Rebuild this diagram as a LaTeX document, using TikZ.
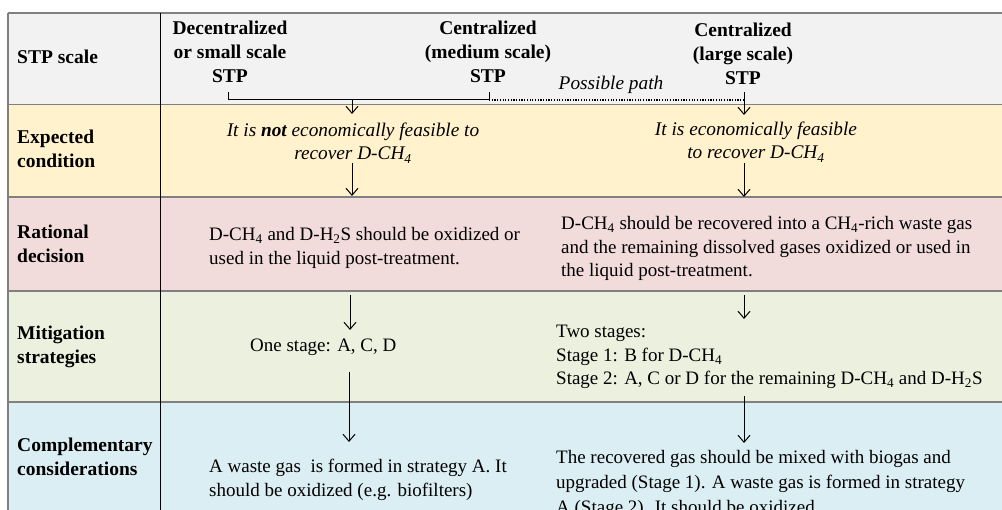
\documentclass[tikz,border=0pt]{standalone}
\usepackage{fontspec}
\setmainfont{Liberation Serif}
\usetikzlibrary{arrows.meta}
\definecolor{hdrc}{HTML}{F2F2F2}
\definecolor{yelc}{HTML}{FFF2CC}
\definecolor{pnkc}{HTML}{F2DCDB}
\definecolor{grnc}{HTML}{EBF1DE}
\definecolor{bluc}{HTML}{DBEEF3}
\definecolor{rulec}{HTML}{808080}
\newcommand{\mlL}[1]{\begin{tabular}[t]{@{}l@{}}#1\end{tabular}}
\newcommand{\mlC}[1]{\begin{tabular}[t]{@{}c@{}}#1\end{tabular}}
\begin{document}
\begin{tikzpicture}[x=1pt,y=-1pt,
  lbl/.style={anchor=base west, inner sep=0pt, font=\fontsize{19.5}{24}\selectfont\bfseries},
  hd/.style={anchor=base, inner sep=0pt, font=\fontsize{19.5}{24}\selectfont\bfseries},
  itc/.style={anchor=base, inner sep=0pt, font=\fontsize{19.3}{23}\selectfont\itshape},
  body/.style={anchor=base west, inner sep=0pt, font=\fontsize{19}{23.5}\selectfont},
  rowrule/.style={draw=rulec, line width=1.1pt},
  conn/.style={line width=1pt, black},
  arr/.style={conn, -{Straight Barb[length=7pt,width=12pt,line width=1pt]}},
  dots/.style={line width=1.2pt, black, dash pattern=on 1.2pt off 1.5pt}
]
\useasboundingbox (0,0) rectangle (1002,510);
\clip (0,0) rectangle (1002,510);
% row backgrounds
\fill[hdrc] (8,13) rectangle (1002,104.5);
\fill[yelc] (8,104.5) rectangle (1002,197);
\fill[pnkc] (8,197) rectangle (1002,291);
\fill[grnc] (8,291) rectangle (1002,402);
\fill[bluc] (8,402) rectangle (1002,512);
% rules
\foreach \yy in {13,104.5,197,291,402} \draw[rowrule] (8,\yy) -- (1003,\yy);
\draw[rowrule] (8,13) -- (8,512);
\draw[line width=1pt, black] (160,13) -- (160,512);

% row labels
\node[lbl] (lscale) at (17,64) {STP scale};
\node[lbl] (lexp) at (17,144) {\mlL{Expected\\condition}};
\node[lbl] (lrat) at (17,239) {\mlL{Rational\\decision}};
\node[lbl] (lmit) at (17,340) {\mlL{Mitigation\\strategies}};
\node[lbl] (lcom) at (17,452) {\mlL{Complementary\\considerations}};

% header columns
\node[hd] (small) at (230,35) {\mlC{Decentralized\\or small scale\\STP}};
\node[hd] (medium) at (488,35) {\mlC{Centralized\\(medium scale)\\STP}};
\node[hd] (large) at (743,36.5) {\mlC{Centralized\\(large scale)\\STP}};
\node[itc] (pp) at (611,90) {Possible path};

% bracket and header arrows
\coordinate (bL) at (228,92);
\coordinate (bR) at (489,92);
\coordinate (bM) at (352,100);
\coordinate (bT) at (352,114);
\coordinate (gT) at (744,92);
\coordinate (gB) at (744,115);
\draw[conn] (bL) -- (bL |- bM) -- (bR |- bM) -- (bR);
\draw[dots] (bR |- bM) -- (gT |- bM);
\draw[arr] (bM) -- (bT);
\draw[arr] (gT) -- (gB);

% expected condition
\node[itc] (e1) at (353,137) {\mlC{It is \textbf{not} economically feasible to\\recover D-CH\textsubscript{4}}};
\node[itc] (e2) at (756,136) {\mlC{It is economically feasible\\to recover D-CH\textsubscript{4}}};
\coordinate (a1s) at (352,163);
\coordinate (a1e) at (352,196);
\coordinate (a2s) at (744,163);
\coordinate (a2e) at (744,197);
\draw[arr] (a1s) -- (a1e);
\draw[arr] (a2s) -- (a2e);

% rational decision
\node[body] (r1) at (209,241) {\mlL{D-CH\textsubscript{4} and D-H\textsubscript{2}S should be oxidized or\\used in the liquid post-treatment.}};
\node[body] (r2) at (561,230) {\mlL{D-CH\textsubscript{4} should be recovered into a CH\textsubscript{4}-rich waste gas\\and the remaining dissolved gases oxidized or used in\\the liquid post-treatment.}};

% mitigation strategies
\coordinate (m1s) at (350,295);
\coordinate (m1e) at (350,330);
\coordinate (m2s) at (744,295);
\coordinate (m2e) at (744,319);
\draw[arr] (m1s) -- (m1e);
\draw[arr] (m2s) -- (m2e);
\node[body] (s1) at (250,352) {One stage: A, C, D};
\node[body] (s2) at (556,338) {\mlL{Two stages:\\Stage 1: B for D-CH\textsubscript{4}\\Stage 2: A, C or D for the remaining D-CH\textsubscript{4} and D-H\textsubscript{2}S}};

% complementary considerations
\coordinate (c1s) at (349,372);
\coordinate (c1e) at (349,442);
\coordinate (c2s) at (744,396);
\coordinate (c2e) at (744,443);
\draw[arr] (c1s) -- (c1e);
\draw[arr] (c2s) -- (c2e);
\node[body] (k1) at (209,473) {\mlL{A waste gas\ \ is formed in strategy A. It\\should be oxidized (e.g. biofilters)}};
\node[body, font=\fontsize{19}{25}\selectfont] (k2) at (556,464) {\mlL{The recovered gas should be mixed with biogas and\\upgraded (Stage 1). A waste gas is formed in strategy\\A (Stage 2). It should be oxidized.}};
\end{tikzpicture}
\end{document}
